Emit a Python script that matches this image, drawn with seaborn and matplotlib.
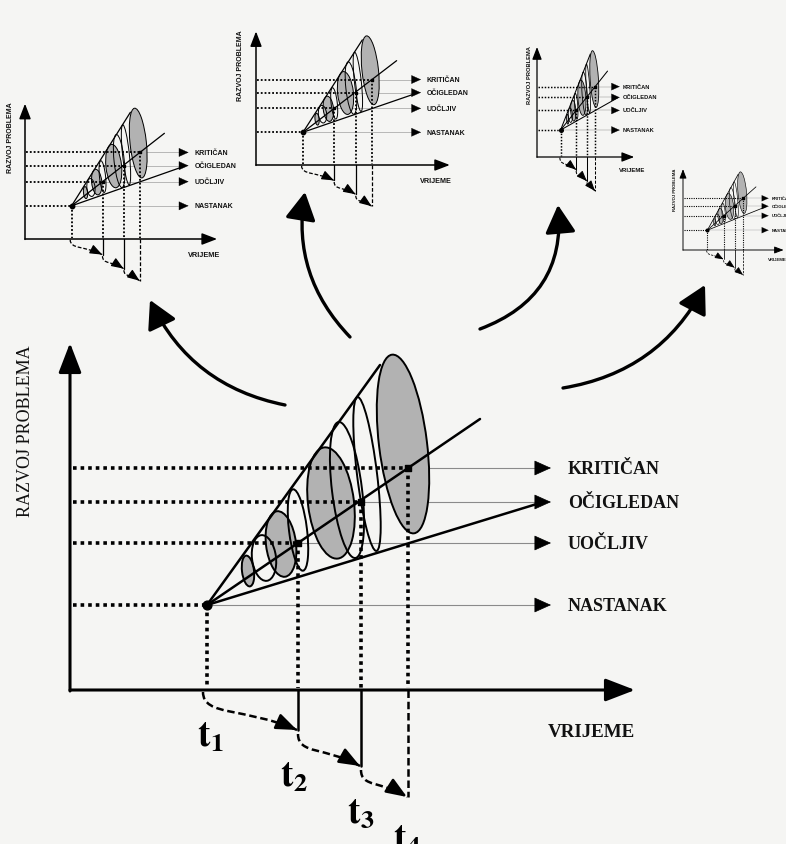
import numpy as np
import matplotlib.pyplot as plt
import seaborn as sns
from matplotlib.patches import Ellipse, FancyArrowPatch, PathPatch
from matplotlib.path import Path

sns.set_theme(style="white")
plt.rcParams['font.family'] = ['Liberation Serif', 'DejaVu Serif']
plt.rcParams['mathtext.fontset'] = 'stix'

W, H = 786, 844
PAPER = '#f5f5f3'
SHADE = '#b2b2b2'

# stages of the problem (diagram units: x = time, y = development)
stage_names = ['NASTANAK', 'UOČLJIV', 'OČIGLEDAN', 'KRITIČAN']
stage_levels = [85, 147, 188, 222]
stage_times = [137, 228, 291, 338]
time_subs = ['1', '2', '3', '4']
drop_depth = [0, 40, 76, 107]          # how far each t-marker hangs below the time axis
drop_style = ['none', '-', '-', (0, (3, 1.5))]

# rays of the cone, all starting at (t1, NASTANAK)
ray_end_x = [310, 410, 470]
ray_end_y = [325, 271, 187]

# ellipses inside the cone
ell_x = [178, 194, 211, 228, 261, 277, 297, 333]
ell_y = [119, 132, 146, 160, 187, 200, 216, 246]
ell_w = [12, 24, 30, 18, 46, 30, 20, 48]
ell_h = [31, 46, 66, 82, 112, 137, 155, 180]
ell_shaded = [True, False, True, False, True, False, False, True]
ELL_TILT = 7

# the main picture and its four smaller copies (origin in pixels, scale)
panel_ox = [70, 25, 256, 537, 683]
panel_oy = [690, 239, 165, 157, 250]
panel_sx = [1.0, 0.34, 0.343, 0.172, 0.178]
panel_sy = [1.0, 0.39, 0.385, 0.317, 0.233]

# big curved arrows from the main picture towards the copies (pixels)
big_start = [(285, 405), (350, 337), (480, 329), (563, 388)]
big_end = [(150, 300), (305, 192), (558, 205), (705, 285)]
big_rad = [-0.25, -0.25, 0.38, 0.25]


def curved_step(ax, p0, p3, lw, ms):
    x0, y0 = p0
    x3, y3 = p3
    dx, dy = x3 - x0, y3 - y0
    p1 = (x0, y0 + 0.65 * dy)
    p2 = (x0 + 0.45 * dx, y0 + 0.4 * dy)
    path = Path([p0, p1, p2, p3], [Path.MOVETO, Path.CURVE4, Path.CURVE4, Path.CURVE4])
    patch = PathPatch(path, fill=False, lw=lw, ls=(0, (3, 1.5)), edgecolor='black')
    patch.set_clip_on(False)
    ax.add_patch(patch)
    tail = (x3 - 0.3 * (x3 - p2[0]), y3 - 0.3 * (y3 - p2[1]))
    ax.annotate('', xy=p3, xytext=tail, annotation_clip=False,
                arrowprops=dict(arrowstyle='-|>,head_length=0.9,head_width=0.35', color='black',
                                lw=lw, mutation_scale=ms, shrinkA=0, shrinkB=0))


def draw_diagram(ax, k, font, fs, detail):
    ax.set_xlim(-60, 640)
    ax.set_ylim(-170, 360)
    ax.axis('off')
    ax.patch.set_visible(False)

    # axes with arrow heads
    head = dict(arrowstyle='-|>,head_length=1.3,head_width=0.5', color='black',
                lw=2.2 * k, mutation_scale=14 * k, shrinkA=0, shrinkB=0)
    ax.annotate('', xy=(0, 347), xytext=(0, -1), arrowprops=head, annotation_clip=False)
    ax.annotate('', xy=(565, 0), xytext=(0, 0), arrowprops=head, annotation_clip=False)

    # shaded ellipses first, then every outline
    for x, y, w, h, s in zip(ell_x, ell_y, ell_w, ell_h, ell_shaded):
        if s:
            e = Ellipse((x, y), w, h, angle=ELL_TILT, facecolor=SHADE, edgecolor='none', zorder=2)
            e.set_clip_on(False)
            ax.add_patch(e)
    for x, y, w, h in zip(ell_x, ell_y, ell_w, ell_h):
        e = Ellipse((x, y), w, h, angle=ELL_TILT, facecolor='none', edgecolor='black',
                    lw=1.4 * k, zorder=3)
        e.set_clip_on(False)
        ax.add_patch(e)

    # cone rays
    for ex, ey in zip(ray_end_x, ray_end_y):
        ax.plot([stage_times[0], ex], [stage_levels[0], ey], color='black', lw=1.8 * k,
                zorder=4, clip_on=False)

    dots = (0, (1, 1.1))
    for name, lvl, t in zip(stage_names, stage_levels, stage_times):
        ax.plot([3, t], [lvl, lvl], color='black', lw=2.6 * k, ls=dots, zorder=5, clip_on=False)
        ax.plot([t, t], [lvl, 2], color='black', lw=2.6 * k, ls=dots, zorder=5, clip_on=False)
        ax.plot([t, 468], [lvl, lvl], color='#8a8a8a', lw=0.8 * k, zorder=1, clip_on=False)
        ax.annotate('', xy=(481, lvl), xytext=(466, lvl), annotation_clip=False,
                    arrowprops=dict(arrowstyle='-|>,head_length=1.0,head_width=0.45', color='black',
                                    lw=0.5 * k, mutation_scale=9 * k + 2, shrinkA=0, shrinkB=0))
        ax.text(498, lvl - 6, name, fontfamily=font, fontweight='bold', fontsize=fs,
                va='baseline', ha='left', color='#111111')

    ax.scatter(stage_times[:1], stage_levels[:1], s=40 * k * k, color='black', zorder=6, clip_on=False)
    ax.scatter(stage_times[1:], stage_levels[1:], s=18 * k * k, color='black', marker='s',
               zorder=6, clip_on=False)

    # markers hanging below the time axis and the curved steps between them
    for t, d, st in zip(stage_times, drop_depth, drop_style):
        if st != 'none':
            ax.plot([t, t], [0, -d], color='black', lw=1.8 * k, ls=st, clip_on=False)
    for i in range(3):
        start = (stage_times[i] - (4 if i == 0 else 0), -drop_depth[i] - (2 if i == 0 else 4))
        end = (stage_times[i + 1] - 1, -drop_depth[i + 1])
        curved_step(ax, start, end, 1.8 * k, 12 * k + 2)

    ax.text(-44, 259, 'RAZVOJ PROBLEMA', rotation=90, ha='center', va='center',
            fontfamily=font, fontsize=fs, color='#111111',
            fontweight='normal' if detail else 'bold')
    ax.text(478, -47, 'VRIJEME', fontfamily=font, fontweight='bold', fontsize=fs * 1.05,
            ha='left', va='baseline', color='#111111')

    if detail:
        tlab_x = [127, 210, 277, 323]
        tlab_y = [-57, -97, -133, -160]
        for x, y, s in zip(tlab_x, tlab_y, time_subs):
            ax.text(x, y, r'$\mathbf{t}_{\mathbf{%s}}$' % s, fontsize=27, ha='left',
                    va='baseline', color='black')


fig = plt.figure(figsize=(W / 100, H / 100), dpi=100)
fig.patch.set_facecolor(PAPER)

bg = fig.add_axes([0, 0, 1, 1])
bg.set_xlim(0, W)
bg.set_ylim(H, 0)
bg.axis('off')
for p0, p1, r in zip(big_start, big_end, big_rad):
    arr = FancyArrowPatch(p0, p1, connectionstyle='arc3,rad=%s' % r,
                          arrowstyle='-|>,head_length=1.0,head_width=0.55',
                          mutation_scale=17, lw=2.4, color='black', shrinkA=0, shrinkB=0)
    bg.add_patch(arr)

for i, (ox, oy, sx, sy) in enumerate(zip(panel_ox, panel_oy, panel_sx, panel_sy)):
    left = ox - 60 * sx
    right = ox + 640 * sx
    top = oy - 360 * sy
    bottom = oy + 170 * sy
    ax = fig.add_axes([left / W, 1 - bottom / H, (right - left) / W, (bottom - top) / H])
    if i == 0:
        draw_diagram(ax, 1.0, ['Liberation Serif', 'DejaVu Serif'], 13, True)
    else:
        k = max(0.3, 1.3 * sy)
        draw_diagram(ax, k, ['Liberation Sans', 'DejaVu Sans'], 13 * sy, False)

fig.savefig('out.png', dpi=100, facecolor=PAPER)
